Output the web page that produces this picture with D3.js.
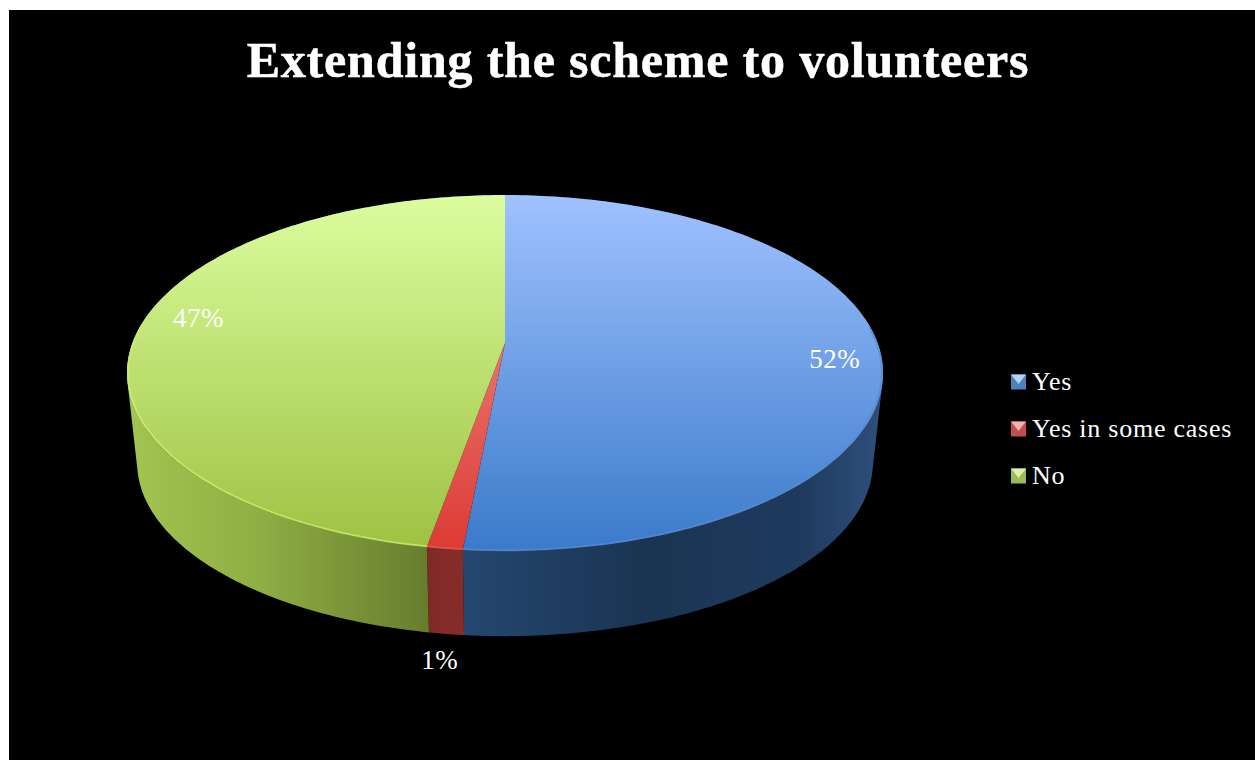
<!DOCTYPE html>
<html>
<head>
<meta charset="utf-8">
<script src="https://cdn.jsdelivr.net/npm/d3@7"></script>
<style>
  html, body { margin: 0; padding: 0; background: #fff; }
  svg { display: block; }
  text { font-family: "Liberation Serif", serif; fill: #fff; }
</style>
</head>
<body>
<div id="chart"></div>
<script>
// Survey result: share of answers per category, in percent.
const titleText = "Extending the scheme to volunteers";
const categories = ["Yes", "Yes in some cases", "No"];
const shares = [51.5, 1.3, 47.2];

// Per-category shading: top face gradient, rim, side band gradient stops.
const topLight = ["#a0c2ff", "#f49a94", "#dcfd9e"];
const topDark  = ["#3a7aca", "#dc3a34", "#9ec142"];
const rimColor = ["#5a8ad0", "#e85a52", "#cdee6c"];
const sideStops = [
  [[466, "#24476f"], [640, "#1b3453"], [800, "#1e3a5d"], [880, "#2e4f7c"]],
  [[428, "#7f2a27"], [466, "#872c29"]],
  [[130, "#a2c450"], [260, "#8fae44"], [428, "#677d2e"]]
];
const legendSwatch = [
  ["#4f81bd", "#b4d2f6"],
  ["#c0504d", "#f2b0ae"],
  ["#9bbb59", "#dcefb0"]
];

const width = 1255, height = 760;
const frame = { x: 9, y: 10 };

// Tilted-disc projection of the unit circle; the hub sits above the middle of the ellipse.
const disc = { cx: 505, hubY: 343, a: 372.6, b: 172.9, p: 0.1685 };
const depth = { scale: 0.973, shift: 90, midY: 373 };

function project(angle, r) {
  const u = r * Math.sin(angle), v = -r * Math.cos(angle);
  const w = 1 - disc.p * v;
  return [disc.cx + disc.a * u / w, disc.hubY + disc.b * v / w];
}
function projectLower(angle) {
  const [x, y] = project(angle, 1);
  return [disc.cx + (x - disc.cx) * depth.scale,
          depth.midY + depth.shift + (y - depth.midY) * depth.scale];
}
function arcAngles(a0, a1) {
  const n = Math.max(2, Math.ceil((a1 - a0) * 60));
  return d3.range(n + 1).map(i => a0 + (a1 - a0) * i / n);
}

const svg = d3.select("#chart").append("svg").attr("width", width).attr("height", height);
const defs = svg.append("defs");

svg.append("rect")
  .attr("x", frame.x).attr("y", frame.y)
  .attr("width", width - frame.x).attr("height", height - frame.y)
  .attr("fill", "#000");

svg.append("text")
  .attr("x", 638).attr("y", 77)
  .attr("text-anchor", "middle")
  .attr("font-size", 50).attr("font-weight", 700)
  .attr("letter-spacing", 0.8)
  .attr("stroke", "#fff").attr("stroke-width", 0.5)
  .text(titleText);

const slices = d3.pie().sort(null)(shares);
const line = d3.line();

// Gradients for the top face (vertical) and the side band (horizontal).
const topScaleY = d3.scaleLinear().domain([0, 1]).range([195, 551]);
slices.forEach((s, i) => {
  const g = defs.append("linearGradient").attr("id", `top${i}`)
    .attr("gradientUnits", "userSpaceOnUse")
    .attr("x1", 0).attr("x2", 0).attr("y1", topScaleY(0)).attr("y2", topScaleY(1));
  g.append("stop").attr("offset", 0).attr("stop-color", topLight[i]);
  g.append("stop").attr("offset", 1).attr("stop-color", topDark[i]);

  const stops = sideStops[i];
  const x0 = stops[0][0], x1 = stops[stops.length - 1][0];
  const h = defs.append("linearGradient").attr("id", `side${i}`)
    .attr("gradientUnits", "userSpaceOnUse")
    .attr("x1", x0).attr("x2", x1).attr("y1", 0).attr("y2", 0);
  stops.forEach(([x, c]) => h.append("stop").attr("offset", (x - x0) / (x1 - x0)).attr("stop-color", c));
});

// One consistently wound quad per arc step, so overlapping back and front parts
// of the band fill as a union under the nonzero rule.
function bandPath(d) {
  const angles = arcAngles(d.startAngle, d.endAngle);
  return d3.pairs(angles).map(([a, b]) => {
    const quad = [project(a, 1), project(b, 1), projectLower(b), projectLower(a)];
    return line(d3.polygonArea(quad) < 0 ? quad.reverse() : quad) + "Z";
  }).join("");
}

// Side bands first, then the top face over them.
svg.append("g").selectAll("path").data(slices).join("path")
  .attr("fill", (d, i) => `url(#side${i})`)
  .attr("d", bandPath);

svg.append("g").selectAll("path").data(slices).join("path")
  .attr("fill", (d, i) => `url(#top${i})`)
  .attr("d", d => {
    const angles = arcAngles(d.startAngle, d.endAngle);
    return line([project(0, 0)].concat(angles.map(a => project(a, 1)))) + "Z";
  });

// Thin bevel highlight along the near edge of the top face only.
const rimFrom = Math.PI * 0.47, rimTo = Math.PI * 1.53;
svg.append("g").selectAll("path").data(slices).join("path")
  .attr("fill", "none")
  .attr("stroke", (d, i) => rimColor[i])
  .attr("stroke-width", 2)
  .attr("stroke-opacity", 0.7)
  .attr("d", d => line(arcAngles(Math.max(d.startAngle, rimFrom), Math.min(d.endAngle, rimTo))
    .map(a => project(a, 0.997))));

// Percent labels, placed relative to each slice's mid angle.
const labelPlacement = [
  { r: 0.88, dx: 0, dy: 18 },
  { r: 1, dx: -5, dy: 120 },
  { r: 0.825, dx: -4, dy: -4 }
];
const percent = d3.format(".0f");
svg.append("g").selectAll("text").data(slices).join("text")
  .attr("font-size", 27)
  .attr("letter-spacing", 0.5)
  .attr("text-anchor", "middle")
  .attr("x", (d, i) => project((d.startAngle + d.endAngle) / 2, labelPlacement[i].r)[0] + labelPlacement[i].dx)
  .attr("y", (d, i) => project((d.startAngle + d.endAngle) / 2, labelPlacement[i].r)[1] + labelPlacement[i].dy)
  .text(d => percent(d.value) + "%");

// Legend with small bevelled swatches.
const legendY = d3.scalePoint().domain(categories).range([382, 476]);
const box = 15;
const legend = svg.append("g").selectAll("g").data(categories).join("g")
  .attr("transform", d => `translate(1011,${legendY(d)})`);
legend.append("rect")
  .attr("x", 0).attr("y", -box / 2).attr("width", box).attr("height", box)
  .attr("fill", (d, i) => legendSwatch[i][0]);
legend.append("path")
  .attr("fill", (d, i) => legendSwatch[i][1])
  .attr("d", `M0,${-box / 2}L${box},${-box / 2}L${box / 2},${2}Z`);
legend.append("text")
  .attr("x", 21).attr("y", 8)
  .attr("font-size", 26)
  .attr("letter-spacing", 0.75)
  .text(d => d);
</script>
</body>
</html>
